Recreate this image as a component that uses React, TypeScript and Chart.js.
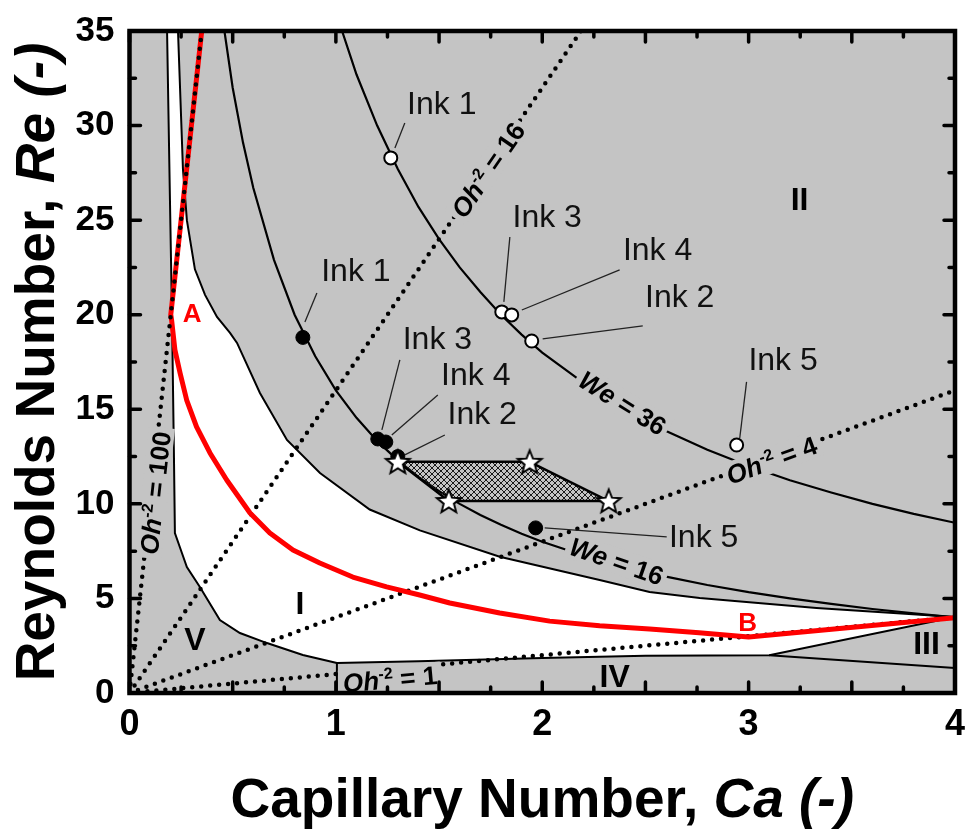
import React, { useEffect, useRef } from 'react';
import { Chart, registerables } from 'chart.js';

Chart.register(...registerables);

type P = [number, number];

// ---------- axis ticks ----------
const xTickValues = [0, 1, 2, 3, 4];
const yTickValues = [0, 5, 10, 15, 20, 25, 30, 35];

// ---------- region boundaries (Ca, Re) ----------
const leftBoundary: P[] = [
  [0.182, 35], [0.196, 26.07], [0.206, 19.88], [0.215, 12.85], [0.22, 8.46],
  [0.254, 7.4], [0.278, 6.66], [0.341, 5.6], [0.438, 3.86], [0.535, 3.17],
  [0.666, 2.64], [0.84, 2.01], [1.005, 1.59],
];
const upperBoundary: P[] = [
  [0.235, 35], [0.259, 27.7], [0.278, 25.0], [0.317, 22.4], [0.366, 21.05],
  [0.424, 19.88], [0.487, 19.04], [0.521, 18.51], [0.632, 15.86], [0.763, 13.38],
  [0.923, 11.63], [1.164, 9.7], [1.407, 8.6], [1.794, 7.2], [2.278, 5.97],
  [2.52, 5.34], [2.763, 5.02], [3.329, 4.49], [4.0, 4.02],
];
const lowerBoundary: P[] = [
  [1.005, 1.59], [1.4, 1.68], [2.0, 1.85], [2.5, 1.97], [3.1, 2.0], [4.0, 4.02],
];
const regionIIIBoundary: P[] = [[3.1, 2.0], [4.0, 1.32]];
const regionIVBoundary: P[] = [[1.005, 1.59], [1.005, 0]];

// ---------- Weber number curves ----------
const we16: P[] = [
  [0.46, 35], [0.5, 32], [0.55, 29.1], [0.6, 26.7], [0.7, 22.9], [0.8, 20],
  [0.9, 17.8], [1.0, 16], [1.1, 14.55], [1.2, 13.33], [1.3, 12.3], [1.4, 11.43],
  [1.5, 10.67], [1.6, 10], [1.7, 9.41], [1.8, 8.89], [1.9, 8.42], [2.0, 8.0],
  [2.2, 7.27], [2.4, 6.67], [2.6, 6.15], [2.8, 5.71], [3.0, 5.33], [3.2, 5.0],
  [3.4, 4.71], [3.6, 4.44], [3.8, 4.21], [4.0, 4.0],
];
const we36: P[] = [
  [1.03, 35], [1.1, 32.7], [1.2, 30], [1.3, 27.7], [1.4, 25.7], [1.5, 24],
  [1.6, 22.5], [1.7, 21.2], [1.8, 20], [1.9, 18.95], [2.0, 18], [2.2, 16.4],
  [2.4, 15], [2.6, 13.85], [2.8, 12.86], [3.0, 12], [3.2, 11.25], [3.4, 10.6],
  [3.6, 10], [3.8, 9.47], [4.0, 9.0],
];

// ---------- Ohnesorge lines ----------
const oh100: P[] = [[0, 0], [0.35, 35]];
const oh16: P[] = [[0, 0], [2.1875, 35]];
const oh4: P[] = [[0, 0], [4, 16]];
const oh1: P[] = [[0, 0], [4, 4]];

// ---------- printable window (red) ----------
const redBoundary: P[] = [
  [0.35, 35], [0.2, 20], [0.204, 19.72], [0.22, 18.14], [0.245, 16.92],
  [0.277, 15.49], [0.325, 14.07], [0.39, 12.69], [0.471, 11.26], [0.584, 9.52],
  [0.68, 8.46], [0.792, 7.56], [0.922, 6.87], [1.082, 6.13], [1.246, 5.61],
  [1.406, 5.18], [1.552, 4.76], [1.794, 4.23], [2.036, 3.8], [2.278, 3.55],
  [2.52, 3.38], [2.76, 3.18], [3.0, 2.96], [4.0, 3.98],
];

// ---------- inks ----------
const filledInks: P[] = [[0.84, 18.8], [1.203, 13.43], [1.242, 13.27], [1.30, 12.5], [1.968, 8.73]];
const openInks: P[] = [[1.266, 28.29], [1.804, 20.15], [1.852, 19.99], [1.949, 18.61], [2.942, 13.11]];
const starPoints: P[] = [[1.30, 12.22], [1.939, 12.22], [2.322, 10.15], [1.547, 10.15]];

// ---------- annotations ----------
const inkNames = ['Ink 1', 'Ink 3', 'Ink 4', 'Ink 2', 'Ink 5'];
const openLabelAt: P[] = [[1.513, 31.12], [2.024, 25.15], [2.559, 23.4], [2.666, 20.91], [3.167, 17.58]];
const openLeaderFrom: P[] = [[1.334, 30.14], [1.843, 24.11], [2.375, 22.37], [2.487, 19.41], [2.99, 16.45]];
const openLeaderTo: P[] = [[1.286, 28.82], [1.814, 20.68], [1.901, 20.25], [2.002, 18.72], [2.957, 13.48]];
const filledLabelAt: P[] = [[1.097, 22.29], [1.492, 18.69], [1.678, 16.79], [1.709, 14.75], [2.782, 8.22]];
const filledLeaderFrom: P[] = [[0.908, 21.15], [1.31, 17.61], [1.494, 15.76], [1.528, 13.64], [2.012, 8.73]];
const filledLeaderTo: P[] = [[0.85, 19.62], [1.223, 13.91], [1.271, 13.64], [1.334, 12.59], [2.603, 8.25]];

const regionNames = ['I', 'II', 'III', 'IV', 'V'];
const regionAt: P[] = [[0.826, 4.68], [3.247, 26.07], [3.862, 2.59], [2.351, 0.846], [0.317, 2.8]];
const pointNames = ['A', 'B'];
const pointAt: P[] = [[0.303, 20.04], [2.995, 3.7]];

const FAMILY = "'Liberation Sans', Arial, Helvetica, sans-serif";
const GRAY = '#c4c4c4';

type Part = { text: string; style: 'b' | 'bi' | 'sup' | 'r' };
const curveLabels: { parts: Part[]; at: P; angle: number }[] = [
  { parts: [{ text: 'Oh', style: 'bi' }, { text: '-2', style: 'sup' }, { text: ' = 16', style: 'b' }], at: [1.736, 27.66], angle: -55.5 },
  { parts: [{ text: 'Oh', style: 'bi' }, { text: '-2', style: 'sup' }, { text: ' = 4', style: 'b' }], at: [3.111, 12.32], angle: -20 },
  { parts: [{ text: 'Oh', style: 'bi' }, { text: '-2', style: 'sup' }, { text: ' = 100', style: 'b' }], at: [0.1235, 10.58], angle: -83.8 },
  { parts: [{ text: 'Oh', style: 'bi' }, { text: '-2', style: 'sup' }, { text: ' = 1', style: 'b' }], at: [1.262, 0.74], angle: -5.2 },
  { parts: [{ text: 'We', style: 'bi' }, { text: ' = 36', style: 'b' }], at: [2.39, 15.34], angle: 32 },
  { parts: [{ text: 'We', style: 'bi' }, { text: ' = 16', style: 'b' }], at: [2.361, 6.98], angle: 19 },
];

const pts = (a: P[]) => a.map(([x, y]) => ({ x, y }));

function fontFor(style: string, size: number) {
  if (style === 'bi') return `italic bold ${size}px ${FAMILY}`;
  if (style === 'b') return `bold ${size}px ${FAMILY}`;
  if (style === 'sup') return `bold ${Math.round(size * 0.6)}px ${FAMILY}`;
  return `${size}px ${FAMILY}`;
}

function drawRich(ctx: CanvasRenderingContext2D, cx: number, cy: number, angle: number, parts: Part[], size: number, bg: string | null, baselineMode: 'center' | 'baseline') {
  ctx.save();
  ctx.translate(cx, cy);
  ctx.rotate((angle * Math.PI) / 180);
  const widths = parts.map((p) => {
    ctx.font = fontFor(p.style, size);
    return ctx.measureText(p.text).width;
  });
  const w = widths.reduce((a, b) => a + b, 0);
  if (bg) {
    ctx.fillStyle = bg;
    ctx.fillRect(-w / 2 - 4, -size * 0.5, w + 8, size * 1.0);
  }
  const base = baselineMode === 'center' ? size * 0.36 : 0;
  let x = -w / 2;
  ctx.fillStyle = '#000';
  ctx.textBaseline = 'alphabetic';
  ctx.textAlign = 'left';
  parts.forEach((p, i) => {
    ctx.font = fontFor(p.style, size);
    const dy = p.style === 'sup' ? -size * 0.38 : 0;
    ctx.fillText(p.text, x, base + dy);
    x += widths[i];
  });
  ctx.restore();
}

function makeStar(): HTMLCanvasElement {
  const c = document.createElement('canvas');
  c.width = 30;
  c.height = 30;
  const g = c.getContext('2d')!;
  g.beginPath();
  for (let i = 0; i < 10; i++) {
    const r = i % 2 === 0 ? 12.5 : 5.4;
    const a = -Math.PI / 2 + (i * Math.PI) / 5;
    g.lineTo(15 + r * Math.cos(a), 16 + r * Math.sin(a));
  }
  g.closePath();
  g.fillStyle = '#fff';
  g.fill();
  g.lineWidth = 2;
  g.strokeStyle = '#000';
  g.stroke();
  return c;
}

function makeHatch(ctx: CanvasRenderingContext2D): CanvasPattern | string {
  const c = document.createElement('canvas');
  c.width = 6;
  c.height = 6;
  const g = c.getContext('2d')!;
  g.strokeStyle = '#1a1a1a';
  g.lineWidth = 1;
  g.beginPath();
  for (let k = -1; k <= 1; k++) {
    g.moveTo(-1, -1 + 6 * k);
    g.lineTo(7, 7 + 6 * k);
    g.moveTo(-1, 7 + 6 * k);
    g.lineTo(7, -1 + 6 * k);
  }
  g.stroke();
  return ctx.createPattern(c, 'repeat') || '#666';
}

const zeroPad = (s: any) => {
  s.paddingLeft = 0;
  s.paddingRight = 0;
  s.paddingTop = 0;
  s.paddingBottom = 0;
};

const decorPlugin = {
  id: 'decor',
  beforeDatasetsDraw(chart: any) {
    const { ctx, chartArea: a } = chart;
    ctx.save();
    ctx.fillStyle = GRAY;
    ctx.fillRect(a.left, a.top, a.right - a.left, a.bottom - a.top);
    ctx.restore();
  },
  afterDatasetsDraw(chart: any) {
    const { ctx, chartArea: a } = chart;
    const xs = chart.scales.x;
    const ys = chart.scales.y;
    const px = (p: P) => [xs.getPixelForValue(p[0]), ys.getPixelForValue(p[1])];

    ctx.save();
    ctx.beginPath();
    ctx.rect(a.left, a.top, a.right - a.left, a.bottom - a.top);
    ctx.clip();

    curveLabels.forEach((l) => {
      const [x, y] = px(l.at);
      drawRich(ctx, x, y, l.angle, l.parts, 26, GRAY, 'center');
    });

    ctx.strokeStyle = '#222';
    ctx.lineWidth = 1.3;
    const leaders = (from: P[], to: P[]) => {
      from.forEach((f, i) => {
        const [x1, y1] = px(f);
        const [x2, y2] = px(to[i]);
        ctx.beginPath();
        ctx.moveTo(x1, y1);
        ctx.lineTo(x2, y2);
        ctx.stroke();
      });
    };
    leaders(openLeaderFrom, openLeaderTo);
    leaders(filledLeaderFrom, filledLeaderTo);

    ctx.fillStyle = '#111';
    ctx.font = `32px ${FAMILY}`;
    ctx.textAlign = 'center';
    ctx.textBaseline = 'middle';
    const inkText = (at: P[]) => at.forEach((p, i) => {
      const [x, y] = px(p);
      ctx.fillText(inkNames[i], x, y + 1);
    });
    inkText(openLabelAt);
    inkText(filledLabelAt);

    ctx.fillStyle = '#000';
    ctx.font = `bold 32px ${FAMILY}`;
    regionAt.forEach((p, i) => {
      const [x, y] = px(p);
      ctx.fillText(regionNames[i], x, y + 1);
    });
    ctx.fillStyle = '#ff0000';
    ctx.font = `bold 26px ${FAMILY}`;
    pointAt.forEach((p, i) => {
      const [x, y] = px(p);
      ctx.fillText(pointNames[i], x, y + 1);
    });
    ctx.restore();

    ctx.save();
    ctx.strokeStyle = '#000';
    ctx.lineWidth = 3.5;
    ctx.lineCap = 'round';
    ctx.beginPath();
    for (let i = 0; i <= 16; i++) {
      const x = xs.getPixelForValue(i * 0.25);
      const len = i % 2 === 0 ? 11 : 6;
      ctx.moveTo(x, a.bottom);
      ctx.lineTo(x, a.bottom - len);
      ctx.moveTo(x, a.top);
      ctx.lineTo(x, a.top + len);
    }
    for (let i = 0; i <= 14; i++) {
      const y = ys.getPixelForValue(i * 2.5);
      const len = i % 2 === 0 ? 11 : 6;
      ctx.moveTo(a.left, y);
      ctx.lineTo(a.left + len, y);
      ctx.moveTo(a.right, y);
      ctx.lineTo(a.right - len, y);
    }
    ctx.stroke();
    ctx.lineWidth = 4.5;
    ctx.lineCap = 'butt';
    ctx.strokeRect(a.left, a.top, a.right - a.left, a.bottom - a.top);
    ctx.restore();
  },
  afterDraw(chart: any) {
    const { ctx, chartArea: a } = chart;
    const cx = (a.left + a.right) / 2;
    const cy = (a.top + a.bottom) / 2;
    drawRich(ctx, cx, 817, 0, [
      { text: 'Capillary Number, ', style: 'b' },
      { text: 'Ca (-)', style: 'bi' },
    ], 55, null, 'baseline');
    drawRich(ctx, 54, cy, -90, [
      { text: 'Reynolds Number, ', style: 'b' },
      { text: 'Re (-)', style: 'bi' },
    ], 55, null, 'baseline');
  },
};

export default function App() {
  const ref = useRef<HTMLCanvasElement | null>(null);

  useEffect(() => {
    document.body.style.margin = '0';
    const canvas = ref.current!;
    const ctx = canvas.getContext('2d')!;
    const hatch = makeHatch(ctx);
    const star = makeStar();

    const lineDs = (data: P[], extra: any) => ({
      data: pts(data),
      showLine: true,
      pointRadius: 0,
      pointHoverRadius: 0,
      borderColor: '#000',
      borderWidth: 2,
      fill: false,
      ...extra,
    });
    const dotted = { borderDash: [0, 9], borderCapStyle: 'round', borderWidth: 4.5 };

    const chart = new Chart(ctx, {
      type: 'scatter',
      data: {
        datasets: [
          lineDs([...leftBoundary, ...lowerBoundary.slice(1), ...[...upperBoundary].reverse().slice(1)], { fill: 'shape', backgroundColor: '#ffffff', borderWidth: 0, order: 30 }),
          lineDs(leftBoundary, { order: 20 }),
          lineDs(upperBoundary, { order: 20 }),
          lineDs(lowerBoundary, { order: 20 }),
          lineDs(regionIIIBoundary, { order: 20 }),
          lineDs(regionIVBoundary, { order: 20 }),
          lineDs(we16, { borderWidth: 2.2, order: 19 }),
          lineDs(we36, { borderWidth: 2.2, order: 19 }),
          lineDs(oh16, { ...dotted, order: 18 }),
          lineDs(oh4, { ...dotted, order: 18 }),
          lineDs(oh1, { ...dotted, order: 18 }),
          lineDs(redBoundary, { borderColor: '#ff0000', borderWidth: 5, borderJoinStyle: 'round', order: 17 }),
          lineDs(oh100, { ...dotted, order: 16 }),
          lineDs([...starPoints, starPoints[0]], { fill: 'shape', backgroundColor: hatch, borderWidth: 2.5, borderJoinStyle: 'round', order: 15 }),
          { data: pts(filledInks), showLine: false, pointRadius: 7, pointHoverRadius: 7, pointBackgroundColor: '#000', pointBorderColor: '#000', pointBorderWidth: 1, order: 6 },
          { data: pts(openInks), showLine: false, pointRadius: 6.5, pointHoverRadius: 6.5, pointBackgroundColor: '#fff', pointBorderColor: '#000', pointBorderWidth: 2, order: 6 },
          { data: pts(starPoints), showLine: false, pointStyle: star, pointRadius: 12, order: 5 },
        ],
      },
      options: {
        animation: false,
        responsive: false,
        maintainAspectRatio: false,
        events: [],
        layout: { padding: { top: 31, right: 12.5, left: 0, bottom: 0 } },
        plugins: { legend: { display: false }, tooltip: { enabled: false }, title: { display: false } },
        scales: {
          x: {
            type: 'linear',
            min: 0,
            max: 4,
            afterFit: (s: any) => { s.height = 137; zeroPad(s); },
            afterBuildTicks: (s: any) => { s.ticks = xTickValues.map((v) => ({ value: v })); },
            grid: { display: false, drawTicks: false },
            border: { display: false },
            ticks: { color: '#000', padding: 10, font: { family: FAMILY, size: 36, weight: 'bold' }, callback: (v: any) => String(v) },
          },
          y: {
            type: 'linear',
            min: 0,
            max: 35,
            afterFit: (s: any) => { s.width = 129.5; zeroPad(s); },
            afterBuildTicks: (s: any) => { s.ticks = yTickValues.map((v) => ({ value: v })); },
            grid: { display: false, drawTicks: false },
            border: { display: false },
            ticks: { color: '#000', padding: 15, font: { family: FAMILY, size: 35, weight: 'bold' }, callback: (v: any) => String(v) },
          },
        },
      } as any,
      plugins: [decorPlugin],
    });
    return () => chart.destroy();
  }, []);

  return <canvas ref={ref} width={968} height={830} style={{ display: 'block', width: 968, height: 830 }} />;
}
